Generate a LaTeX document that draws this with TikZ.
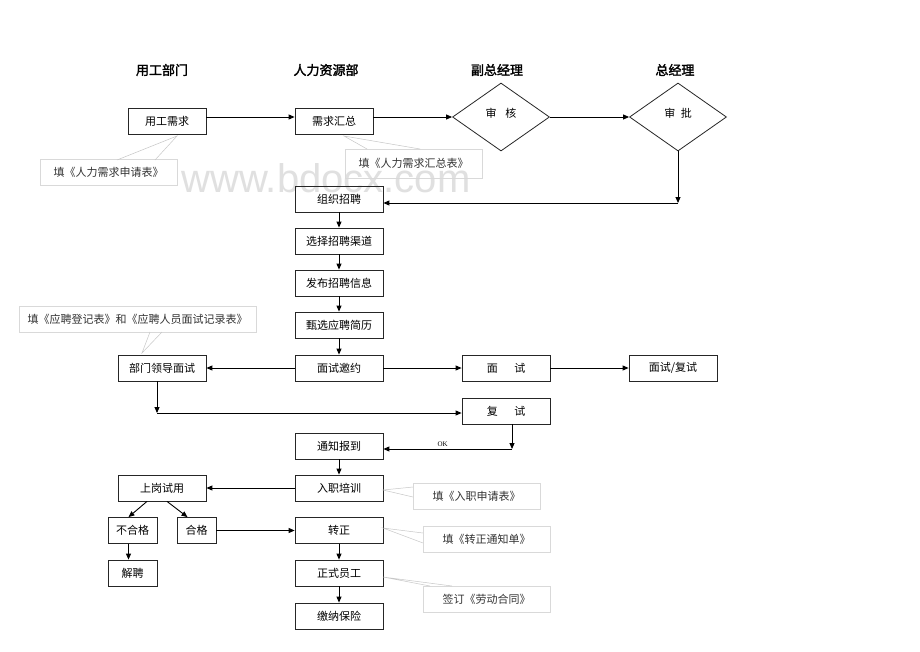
\documentclass[tikz,border=0pt]{standalone}
\usepackage{fontspec}
\setmainfont{Noto Sans CJK SC}
\newfontfamily\cjkbold{Noto Sans CJK SC}[FakeBold=2]
\newfontfamily\wmfont{Liberation Sans}
\newfontfamily\latinserif{Liberation Serif}
\usetikzlibrary{arrows.meta,shapes.geometric}
\begin{document}
\begin{tikzpicture}[x=1pt,y=-1pt,
  every node/.style={inner sep=0pt},
  box/.style={draw=black!85, line width=0.8pt, minimum width=88pt, minimum height=26pt, font=\fontsize{11}{12}\selectfont},
  smallbox/.style={box, minimum width=49pt},
  dia/.style={draw=black!85, line width=0.8pt, diamond, minimum width=97pt, minimum height=68pt, aspect=1.43, font=\fontsize{11}{12}\selectfont},
  head/.style={font=\cjkbold\fontsize{13}{14}\selectfont},
  callout/.style={draw=black!15, line width=0.6pt, minimum height=26pt, font=\fontsize{11}{12}\selectfont, text=black!80},
  tail/.style={draw=black!22, line width=0.5pt},
  conn/.style={draw=black, line width=0.9pt, -{Triangle[length=6pt,width=5pt]}},
  line/.style={draw=black, line width=0.9pt}
]
\useasboundingbox (0,0) rectangle (920,651);
\fill[white] (0,0) rectangle (920,651);

% watermark
\node[anchor=base, font=\wmfont\fontsize{40}{40}\selectfont, text=black!12] (wm) at (326,192) {www.bdocx.com};

% headers
\node[head] (h1) at (162,70) {用工部门};
\node[head] (h2) at (326,70) {人力资源部};
\node[head] (h3) at (497,70) {副总经理};
\node[head] (h4) at (675,70) {总经理};

% top row
\node[box, minimum width=78pt] (ygxq) at (167,121) {用工需求};
\node[box, minimum width=78pt] (xqhz) at (334,121) {需求汇总};
\node[dia] (sh) at (501,117) {\raisebox{9pt}{审\hspace{0.8em}核}};
\node[dia] (sp) at (678,117) {\raisebox{9pt}{审\hspace{0.5em}批}};

% column
\node[box] (zzzp) at (339,199) {组织招聘};
\node[box] (xzqd) at (339,241) {选择招聘渠道};
\node[box] (fbxx) at (339,283) {发布招聘信息};
\node[box] (sxjl) at (339,325) {甄选应聘简历};
\node[box] (msyy) at (339,368) {面试邀约};
\node[box] (ms) at (506,368) {面\hspace{1.5em}试};
\node[box] (msfs) at (673,368) {面试/复试};
\node[box] (bmld) at (162,368) {部门领导面试};
\node[box] (fs) at (506,411) {复\hspace{1.5em}试};
\node[box] (tzbd) at (339,446) {通知报到};
\node[box] (rzpx) at (339,488) {入职培训};
\node[box] (sgsy) at (162,488) {上岗试用};
\node[smallbox] (bhg) at (132.5,530.5) {不合格};
\node[smallbox, minimum width=39pt] (hg) at (196.5,530.5) {合格};
\node[box] (zz) at (339,530.5) {转正};
\node[smallbox] (jp) at (132.5,573) {解聘};
\node[box] (zsyg) at (339,573) {正式员工};
\node[box] (jnbx) at (339,616) {缴纳保险};

% callouts
\node[callout, minimum width=137pt] (coA) at (108.5,172.5) {填《人力需求申请表》};
\draw[tail] (117,160) -- (177,136) -- (155,160);
\node[callout, minimum width=137pt, minimum height=29pt] (coB) at (413.5,163.5) {填《人力需求汇总表》};
\draw[tail] (367,149) -- (344,136) -- (420,149);
\node[callout, minimum width=237pt] (coC) at (137.5,319) {填《应聘登记表》和《应聘人员面试记录表》};
\draw[tail] (150,332) -- (142,353) -- (162,332);
\node[callout, minimum width=127pt] (coD) at (476.5,496) {填《入职申请表》};
\draw[tail] (413,487) -- (383,490) -- (413,497);
\node[callout, minimum width=127pt] (coE) at (486.5,539) {填《转正通知单》};
\draw[tail] (423,533) -- (383,528) -- (423,543);
\node[callout, minimum width=127pt] (coF) at (486.5,599) {签订《劳动合同》};
\draw[tail] (430,586) -- (383,577) -- (452,586);

% connectors
\draw[conn] (ygxq.east |- sh.west) -- (xqhz.west |- sh.west);
\draw[conn] (xqhz.east |- sh.west) -- (sh.west);
\draw[conn] (sh.east) -- (sp.west);
\coordinate (c1) at (678,203);
\draw[conn] (sp.south) -- (c1);
\draw[conn] (c1) -- (zzzp.east |- c1);
\draw[conn] (zzzp) -- (xzqd);
\draw[conn] (xzqd) -- (fbxx);
\draw[conn] (fbxx) -- (sxjl);
\draw[conn] (sxjl) -- (msyy);
\draw[conn] (msyy) -- (bmld);
\draw[conn] (msyy) -- (ms);
\draw[conn] (ms) -- (msfs);
\coordinate (c2) at (157,413);
\draw[conn] (bmld.south -| c2) -- (c2);
\draw[conn] (c2) -- (fs.west |- c2);
\coordinate (c3) at (512,449);
\draw[conn] (fs.south -| c3) -- (c3);
\draw[conn] (c3) -- node[above=1.5pt, pos=0.54, font=\latinserif\fontsize{7}{7}\selectfont] (ok) {OK} (tzbd.east |- c3);
\draw[conn] (tzbd) -- (rzpx);
\draw[conn] (rzpx) -- (sgsy);
\draw[conn] ([xshift=-15pt]sgsy.south) -- ([xshift=-4pt]bhg.north);
\draw[conn] ([xshift=5pt]sgsy.south) -- ([xshift=-9pt]hg.north);
\draw[conn] ([xshift=-4pt]bhg.south) -- ([xshift=-4pt]jp.north);
\draw[conn] (hg) -- (zz);
\draw[conn] (zz) -- (zsyg);
\draw[conn] (zsyg) -- (jnbx);
\end{tikzpicture}
\end{document}
